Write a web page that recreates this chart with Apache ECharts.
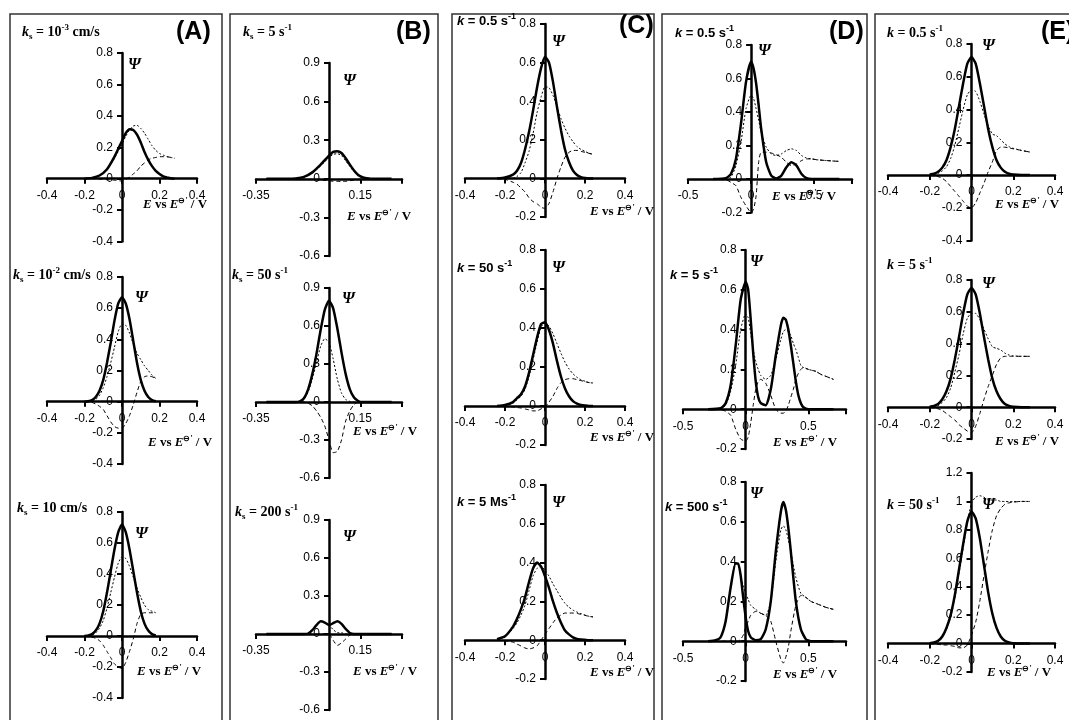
<!DOCTYPE html>
<html><head><meta charset="utf-8">
<script src="https://cdn.jsdelivr.net/npm/echarts@6/dist/echarts.min.js"></script>
<style>html,body{margin:0;padding:0;background:#fff}#c{width:1069px;height:720px}</style>
</head><body><div id="c"></div>
<script>
// ---------- tick label arrays ----------
const xTicksA = [-0.4,-0.2,0,0.2,0.4];
const xTicksB = [-0.35,0.15];
const xTicksD = [-0.5,0,0.5];
const yTicksA = [-0.4,-0.2,0,0.2,0.4,0.6,0.8];
const yTicksB = [-0.6,-0.3,0,0.3,0.6,0.9];
const yTicksC = [-0.2,0,0.2,0.4,0.6,0.8];
const yTicksE3 = [-0.2,0,0.2,0.4,0.6,0.8,1,1.2];

// ---------- column A ----------
const A1_E   = [-0.2,-0.16,-0.12,-0.08,-0.04,0,0.02,0.04,0.06,0.08,0.10,0.12,0.14,0.16,0.18,0.20,0.22,0.24,0.26,0.28];
const A1_net = [0,0.005,0.02,0.06,0.14,0.24,0.29,0.315,0.31,0.28,0.23,0.17,0.12,0.08,0.05,0.03,0.015,0.007,0.003,0];
const A1_fwd = [0,0.005,0.02,0.06,0.13,0.22,0.27,0.31,0.335,0.34,0.32,0.29,0.25,0.21,0.18,0.16,0.15,0.14,0.135,0.13];
const A1_bwd = [0,0,-0.003,-0.007,-0.01,-0.015,-0.005,0.01,0.03,0.05,0.08,0.10,0.12,0.13,0.135,0.14,0.14,0.14,0.135,0.13];

const A2_E   = [-0.2,-0.18,-0.16,-0.14,-0.12,-0.10,-0.08,-0.06,-0.04,-0.02,0,0.02,0.04,0.06,0.08,0.10,0.12,0.14,0.16,0.18];
const A2_net = [0,0.003,0.01,0.03,0.07,0.14,0.25,0.38,0.52,0.63,0.67,0.63,0.53,0.39,0.25,0.14,0.07,0.03,0.01,0.003];
const A2_fwd = [0,0.002,0.005,0.015,0.04,0.09,0.16,0.25,0.35,0.45,0.50,0.49,0.44,0.37,0.31,0.27,0.23,0.20,0.17,0.15];
const A2_bwd = [0,-0.001,-0.005,-0.015,-0.03,-0.05,-0.09,-0.13,-0.16,-0.17,-0.17,-0.14,-0.09,-0.02,0.06,0.13,0.16,0.165,0.16,0.15];

const A3_E   = [-0.2,-0.18,-0.16,-0.14,-0.12,-0.10,-0.08,-0.06,-0.04,-0.02,0,0.02,0.04,0.06,0.08,0.10,0.12,0.14,0.16,0.18];
const A3_net = [0,0.004,0.012,0.035,0.08,0.16,0.28,0.42,0.56,0.67,0.72,0.67,0.56,0.42,0.28,0.16,0.08,0.035,0.012,0.004];
const A3_fwd = [0,0.002,0.005,0.02,0.05,0.1,0.18,0.28,0.38,0.47,0.51,0.50,0.45,0.38,0.31,0.25,0.20,0.17,0.16,0.15];
const A3_bwd = [0,-0.002,-0.007,-0.015,-0.03,-0.06,-0.10,-0.14,-0.18,-0.20,-0.21,-0.17,-0.10,-0.02,0.08,0.14,0.15,0.15,0.15,0.145];

// ---------- column B ----------
const B1_E   = [-0.3,-0.2,-0.16,-0.12,-0.08,-0.04,0,0.02,0.04,0.06,0.08,0.10,0.12,0.14,0.16,0.18,0.2,0.3];
const B1_net = [0,0,0.003,0.015,0.05,0.11,0.18,0.21,0.215,0.2,0.16,0.11,0.065,0.03,0.012,0.004,0,0];
const B1_fwd = [0,0,0.002,0.012,0.045,0.10,0.165,0.19,0.195,0.18,0.14,0.095,0.055,0.025,0.01,0.003,0,0];
const B1_bwd = [0,0,-0.001,-0.003,-0.005,-0.01,-0.015,-0.02,-0.02,-0.02,-0.02,-0.015,-0.01,-0.005,-0.002,0,0,0];

const B2_E   = [-0.3,-0.16,-0.14,-0.12,-0.10,-0.08,-0.06,-0.04,-0.02,0,0.02,0.04,0.06,0.08,0.10,0.12,0.14,0.16,0.3];
const B2_net = [0,0,0.005,0.03,0.1,0.22,0.38,0.57,0.73,0.8,0.74,0.58,0.39,0.22,0.1,0.035,0.008,0,0];
const B2_fwd = [0,0,0,0.02,0.08,0.18,0.31,0.44,0.5,0.47,0.34,0.18,0.07,0.02,0.005,0,0,0,0];
const B2_bwd = [0,0,0,0,-0.01,-0.03,-0.07,-0.12,-0.19,-0.30,-0.40,-0.39,-0.30,-0.15,-0.07,-0.02,0,0,0];

const B3_E   = [-0.3,-0.12,-0.10,-0.08,-0.06,-0.04,-0.02,0,0.02,0.04,0.06,0.08,0.10,0.12,0.3];
const B3_net = [0,0,0.003,0.03,0.07,0.10,0.09,0.07,0.085,0.10,0.08,0.04,0.008,0,0];
const B3_fwd = [0,0,0.002,0.03,0.07,0.10,0.09,0.07,0.035,0.01,0.01,0,0,0,0];
const B3_bwd = [0,0,0,0,0,0,0,0,-0.05,-0.09,-0.07,-0.04,-0.008,0,0];

// ---------- column C ----------
const C_E    = [-0.24,-0.2,-0.16,-0.14,-0.12,-0.10,-0.08,-0.06,-0.04,-0.02,0,0.02,0.04,0.06,0.08,0.10,0.12,0.14,0.16,0.18,0.20,0.22,0.24];
const C1_net = [0,0.005,0.02,0.04,0.08,0.15,0.24,0.35,0.47,0.57,0.63,0.6,0.5,0.37,0.25,0.15,0.085,0.04,0.018,0.007,0.002,0,0];
const C1_fwd = [0,0,0,0.01,0.03,0.08,0.14,0.23,0.34,0.42,0.475,0.47,0.43,0.37,0.31,0.26,0.22,0.19,0.165,0.15,0.14,0.13,0.125];
const C1_bwd = [0,-0.005,-0.02,-0.03,-0.05,-0.07,-0.1,-0.12,-0.13,-0.15,-0.155,-0.13,-0.07,0.0,0.06,0.11,0.135,0.145,0.145,0.14,0.135,0.13,0.125];

const C2_net = [0,0.005,0.02,0.04,0.06,0.1,0.17,0.26,0.35,0.42,0.43,0.39,0.32,0.23,0.15,0.09,0.05,0.025,0.012,0.005,0.002,0,0];
const C2_fwd = [0,0.002,0.015,0.032,0.05,0.085,0.15,0.235,0.325,0.405,0.425,0.41,0.37,0.32,0.27,0.225,0.19,0.165,0.147,0.135,0.127,0.12,0.118];
const C2_bwd = [0,-0.003,-0.005,-0.008,-0.01,-0.015,-0.02,-0.025,-0.025,-0.015,-0.005,0.02,0.05,0.09,0.12,0.135,0.14,0.14,0.135,0.13,0.125,0.12,0.118];

const C3_net = [0.005,0.02,0.07,0.11,0.16,0.22,0.3,0.37,0.4,0.38,0.33,0.27,0.2,0.14,0.09,0.05,0.03,0.015,0.007,0.004,0.002,0,0];
const C3_fwd = [0.005,0.017,0.06,0.09,0.13,0.18,0.255,0.33,0.37,0.38,0.36,0.33,0.29,0.255,0.22,0.19,0.17,0.155,0.145,0.137,0.13,0.123,0.12];
const C3_bwd = [0,-0.003,-0.01,-0.02,-0.03,-0.04,-0.045,-0.04,-0.03,0,0.03,0.06,0.09,0.115,0.13,0.14,0.14,0.14,0.138,0.133,0.128,0.123,0.12];

// ---------- column D ----------
const D1_E   = [-0.3,-0.2,-0.16,-0.12,-0.08,-0.04,0,0.02,0.04,0.06,0.08,0.12,0.16,0.2,0.24,0.28,0.32,0.36,0.4,0.44,0.48,0.52,0.6,0.7];
const D1_net = [0,0.005,0.03,0.12,0.33,0.58,0.7,0.66,0.57,0.44,0.3,0.1,0.02,0.003,0.02,0.07,0.1,0.08,0.03,0.005,0,0,0,0];
const D1_fwd = [0,0.002,0.01,0.08,0.22,0.42,0.5,0.48,0.42,0.35,0.28,0.19,0.15,0.14,0.15,0.17,0.18,0.17,0.14,0.125,0.12,0.115,0.11,0.105];
const D1_bwd = [0,-0.003,-0.02,-0.04,-0.11,-0.16,-0.2,-0.18,-0.1,0.1,0.16,0.16,0.155,0.145,0.13,0.1,0.08,0.09,0.11,0.12,0.12,0.115,0.11,0.105];

const D2_E   = [-0.3,-0.2,-0.16,-0.12,-0.08,-0.04,0,0.02,0.04,0.06,0.08,0.10,0.12,0.16,0.2,0.24,0.28,0.3,0.32,0.34,0.36,0.38,0.4,0.42,0.44,0.46,0.5,0.56,0.6,0.64,0.7];
const D2_net = [0,0.005,0.03,0.12,0.32,0.55,0.64,0.6,0.45,0.28,0.14,0.06,0.03,0.02,0.1,0.27,0.42,0.46,0.45,0.4,0.32,0.23,0.14,0.07,0.03,0.01,0,0,0,0,0];
const D2_fwd = [0,0.003,0.02,0.09,0.22,0.4,0.48,0.46,0.38,0.3,0.24,0.2,0.17,0.15,0.17,0.25,0.35,0.39,0.4,0.39,0.37,0.33,0.3,0.26,0.22,0.21,0.2,0.19,0.175,0.165,0.15];
const D2_bwd = [0,-0.002,-0.01,-0.03,-0.1,-0.15,-0.16,-0.14,-0.07,0.02,0.1,0.14,0.15,0.13,0.07,0.0,-0.02,-0.02,-0.01,0.02,0.06,0.1,0.15,0.18,0.2,0.21,0.2,0.19,0.175,0.165,0.15];

const D3_E   = [-0.3,-0.24,-0.2,-0.16,-0.12,-0.08,-0.06,-0.04,-0.02,0,0.02,0.04,0.08,0.12,0.16,0.2,0.24,0.28,0.3,0.32,0.34,0.36,0.4,0.44,0.48,0.52,0.56,0.6,0.64,0.7];
const D3_net = [0,0.005,0.02,0.1,0.27,0.39,0.39,0.33,0.22,0.12,0.05,0.02,0.005,0.01,0.06,0.2,0.45,0.65,0.7,0.66,0.57,0.45,0.2,0.06,0.01,0,0,0,0,0];
const D3_fwd = [0,0.005,0.02,0.1,0.27,0.4,0.38,0.33,0.28,0.24,0.21,0.18,0.16,0.14,0.13,0.2,0.4,0.56,0.58,0.56,0.51,0.45,0.32,0.24,0.22,0.2,0.19,0.18,0.17,0.16];
const D3_bwd = [0,0,0,0,0,0,0,0.01,0.03,0.07,0.1,0.13,0.15,0.14,0.13,0.1,0.0,-0.09,-0.11,-0.08,-0.03,0.05,0.18,0.23,0.22,0.2,0.19,0.18,0.17,0.16];

// ---------- column E ----------
const E_E    = [-0.2,-0.18,-0.16,-0.14,-0.12,-0.10,-0.08,-0.06,-0.04,-0.02,0,0.02,0.04,0.06,0.08,0.10,0.12,0.14,0.16,0.18,0.2,0.24,0.28];
const E1_net = [0.003,0.008,0.02,0.045,0.09,0.17,0.28,0.42,0.56,0.68,0.72,0.68,0.56,0.42,0.28,0.17,0.09,0.045,0.02,0.008,0.003,0,0];
const E1_fwd = [0.003,0.003,0.01,0.025,0.05,0.1,0.18,0.29,0.40,0.49,0.52,0.51,0.45,0.37,0.30,0.25,0.24,0.215,0.19,0.173,0.163,0.15,0.14];
const E1_bwd = [0,-0.005,-0.01,-0.02,-0.04,-0.07,-0.1,-0.13,-0.16,-0.19,-0.2,-0.17,-0.11,-0.05,0.02,0.08,0.15,0.17,0.17,0.165,0.16,0.15,0.14];

const E2_net = [0.003,0.008,0.02,0.05,0.1,0.18,0.3,0.44,0.59,0.71,0.75,0.71,0.59,0.44,0.3,0.18,0.1,0.05,0.02,0.008,0.003,0,0];
const E2_fwd = [0.003,0.003,0.01,0.03,0.06,0.12,0.22,0.33,0.46,0.56,0.59,0.59,0.55,0.49,0.43,0.38,0.37,0.36,0.34,0.328,0.323,0.32,0.32];
const E2_bwd = [0,-0.005,-0.01,-0.02,-0.04,-0.06,-0.08,-0.11,-0.13,-0.15,-0.16,-0.12,-0.04,0.05,0.13,0.2,0.27,0.31,0.32,0.32,0.32,0.32,0.32];

const E3_net = [0.003,0.008,0.02,0.05,0.11,0.2,0.34,0.52,0.7,0.86,0.93,0.88,0.74,0.55,0.36,0.21,0.11,0.05,0.02,0.008,0.003,0,0];
const E3_fwd = [0.003,0.005,0.015,0.04,0.1,0.185,0.32,0.49,0.67,0.85,0.99,1.03,1.04,1.03,1.01,1.01,1.01,1.0,1.0,0.998,0.998,1.0,1.0];
const E3_bwd = [0,-0.003,-0.005,-0.01,-0.01,-0.015,-0.02,-0.03,-0.03,-0.01,0.06,0.15,0.3,0.48,0.65,0.8,0.9,0.95,0.98,0.99,0.995,1.0,1.0];

// ---------- layout (pixel boxes of each plot area) ----------
const SERIF = '"Liberation Serif","Times New Roman",serif';
const SANS = '"Liberation Sans",Arial,sans-serif';
const panels = [
 {E:A1_E,net:A1_net,fwd:A1_fwd,bwd:A1_bwd,xt:xTicksA,xmax:0.4,yt:yTicksA,box:[47,53,150,188.5]},
 {E:A2_E,net:A2_net,fwd:A2_fwd,bwd:A2_bwd,xt:xTicksA,xmax:0.4,yt:yTicksA,box:[47,277,150,187]},
 {E:A3_E,net:A3_net,fwd:A3_fwd,bwd:A3_bwd,xt:xTicksA,xmax:0.4,yt:yTicksA,box:[47,512,150,186]},
 {E:B1_E,net:B1_net,fwd:B1_fwd,bwd:B1_bwd,xt:xTicksB,xmax:0.35,yt:yTicksB,box:[256,63,146,193]},
 {E:B2_E,net:B2_net,fwd:B2_fwd,bwd:B2_bwd,xt:xTicksB,xmax:0.35,yt:yTicksB,box:[256,288,146,190]},
 {E:B3_E,net:B3_net,fwd:B3_fwd,bwd:B3_bwd,xt:xTicksB,xmax:0.35,yt:yTicksB,box:[256,520,146,190]},
 {E:C_E,net:C1_net,fwd:C1_fwd,bwd:C1_bwd,xt:xTicksA,xmax:0.4,yt:yTicksC,box:[465,24,160,193]},
 {E:C_E,net:C2_net,fwd:C2_fwd,bwd:C2_bwd,xt:xTicksA,xmax:0.4,yt:yTicksC,box:[465,250,160,195]},
 {E:C_E,net:C3_net,fwd:C3_fwd,bwd:C3_bwd,xt:xTicksA,xmax:0.4,yt:yTicksC,box:[465,485,160,194]},
 {E:D1_E,net:D1_net,fwd:D1_fwd,bwd:D1_bwd,xt:xTicksD,xmax:0.8,yt:yTicksC,box:[688,45,164,167.5]},
 {E:D2_E,net:D2_net,fwd:D2_fwd,bwd:D2_bwd,xt:xTicksD,xmax:0.8,yt:yTicksC,box:[683,250,163,199]},
 {E:D3_E,net:D3_net,fwd:D3_fwd,bwd:D3_bwd,xt:xTicksD,xmax:0.8,yt:yTicksC,box:[683,482,163,199]},
 {E:E_E,net:E1_net,fwd:E1_fwd,bwd:E1_bwd,xt:xTicksA,xmax:0.4,yt:yTicksA,box:[888,44,167,196.5]},
 {E:E_E,net:E2_net,fwd:E2_fwd,bwd:E2_bwd,xt:xTicksA,xmax:0.4,yt:yTicksC,box:[888,280,167,159]},
 {E:E_E,net:E3_net,fwd:E3_fwd,bwd:E3_bwd,xt:xTicksA,xmax:0.4,yt:yTicksE3,box:[888,473,167,199]}
];

const near = (a,b)=>Math.abs(a-b)<1e-6;
const fmt = ticks => v => { const t = ticks.find(t=>near(t,v)); return t===undefined ? '' : String(t); };

const grid=[], xAxis=[], yAxis=[], series=[];
panels.forEach((p,i)=>{
  const [L,T,W,H] = p.box;
  const xmin = p.xt[0], xmax = p.xmax, ymin = p.yt[0], ymax = p.yt[p.yt.length-1];
  grid.push({left:L, top:T, width:W, height:H});
  // shift the axes so they cross at the origin (value 0 of the other axis)
  const yOff = -(0 - xmin)/(xmax - xmin)*W;
  const xOff = -(0 - ymin)/(ymax - ymin)*H;
  const common = {
    axisLine:{onZero:false, lineStyle:{color:'#000', width:2.5}},
    axisTick:{length:5, lineStyle:{color:'#000', width:2}},
    splitLine:{show:false}
  };
  xAxis.push(Object.assign({type:'value', gridIndex:i, position:'bottom', offset:xOff, min:xmin, max:xmax,
    interval:p.xt[1]-p.xt[0],
    axisLabel:{fontFamily:SANS, fontSize:12, color:'#000', margin:11, formatter:fmt(p.xt)}}, common));
  yAxis.push(Object.assign({type:'value', gridIndex:i, position:'left', offset:yOff, min:ymin, max:ymax,
    interval:p.yt[1]-p.yt[0],
    axisLabel:{fontFamily:SANS, fontSize:12, color:'#000', margin:9, formatter:fmt(p.yt)}}, common));
  const mk = arr => p.E.map((e,j)=>[e, arr[j]]);
  series.push({type:'line', xAxisIndex:i, yAxisIndex:i, data:mk(p.bwd), showSymbol:false, smooth:0.2, z:2,
    lineStyle:{color:'#000', width:1, type:[4,3]}, animation:false});
  series.push({type:'line', xAxisIndex:i, yAxisIndex:i, data:mk(p.fwd), showSymbol:false, smooth:0.2, z:2,
    lineStyle:{color:'#000', width:1, type:[2,2]}, animation:false});
  series.push({type:'line', xAxisIndex:i, yAxisIndex:i, data:mk(p.net), showSymbol:false, smooth:0.2, z:3,
    lineStyle:{color:'#000', width:2.5}, animation:false});
});

// ---------- texts ----------
const richSerif = {
  i:{fontFamily:SERIF, fontWeight:'bold', fontStyle:'italic', fontSize:14, lineHeight:18},
  b:{fontFamily:SERIF, fontWeight:'bold', fontSize:14, lineHeight:18},
  sub:{fontFamily:SERIF, fontWeight:'bold', fontSize:9, lineHeight:18, verticalAlign:'bottom'},
  sup:{fontFamily:SERIF, fontWeight:'bold', fontSize:9, lineHeight:18, verticalAlign:'top'}
};
const richSans = {
  i:{fontFamily:SANS, fontWeight:'bold', fontStyle:'italic', fontSize:13, lineHeight:18},
  b:{fontFamily:SANS, fontWeight:'bold', fontSize:13, lineHeight:18},
  sup:{fontFamily:SANS, fontWeight:'bold', fontSize:9, lineHeight:18, verticalAlign:'top'}
};
const richAxis = {
  i:{fontFamily:SERIF, fontWeight:'bold', fontStyle:'italic', fontSize:13, lineHeight:16},
  b:{fontFamily:SERIF, fontWeight:'bold', fontSize:13, lineHeight:16},
  sup:{fontFamily:SERIF, fontWeight:'bold', fontSize:8, lineHeight:16, verticalAlign:'top'}
};
const labels = [
  ['{i|k}{sub|s}{b| = 10}{sup|-3}{b| cm/s}', 22, 32, 'serif'],
  ['{i|k}{sub|s}{b| = 10}{sup|-2}{b| cm/s}', 13, 275, 'serif'],
  ['{i|k}{sub|s}{b| = 10 cm/s}', 17, 508, 'serif'],
  ['{i|k}{sub|s}{b| = 5 s}{sup|-1}', 243, 32, 'serif'],
  ['{i|k}{sub|s}{b| = 50 s}{sup|-1}', 232, 275, 'serif'],
  ['{i|k}{sub|s}{b| = 200 s}{sup|-1}', 235, 512, 'serif'],
  ['{i|k}{b| = 0.5 s}{sup|-1}', 457, 21, 'sans'],
  ['{i|k}{b| = 50 s}{sup|-1}', 457, 268, 'sans'],
  ['{i|k}{b| = 5 Ms}{sup|-1}', 457, 502, 'sans'],
  ['{i|k}{b| = 0.5 s}{sup|-1}', 675, 33, 'sans'],
  ['{i|k}{b| = 5 s}{sup|-1}', 670, 275, 'sans'],
  ['{i|k}{b| = 500 s}{sup|-1}', 665, 507, 'sans'],
  ['{i|k}{b| = 0.5 s}{sup|-1}', 887, 33, 'serif'],
  ['{i|k}{b| = 5 s}{sup|-1}', 887, 265, 'serif'],
  ['{i|k}{b| = 50 s}{sup|-1}', 887, 505, 'serif']
];
const psiPos = [[128,65],[135,298],[135,534],[343,81],[342,299],[343,537],[552,42],[552,268],[552,503],[758,51],[750,262],[750,494],[982,46],[982,284],[982,505]];
const axTitlePos = [[143,205],[148,443],[137,672],[347,217],[353,432],[353,672],[590,212],[590,438],[590,673],[772,197],[773,443],[773,675],[995,205],[995,442],[987,673]];
const letters = [['(A)',176,32],['(B)',396,32],['(C)',619,26],['(D)',829,32],['(E)',1041,32]];
const boxes = [[10,222],[230,438],[452,654],[662,867],[875,1080]];

const graphic = [];
boxes.forEach(b=>graphic.push({type:'rect', shape:{x:b[0], y:14, width:b[1]-b[0], height:720}, style:{fill:'none', stroke:'#333', lineWidth:1.5}, silent:true}));
letters.forEach(l=>graphic.push({type:'text', x:l[1], y:l[2], style:{text:l[0], font:'bold 25px '+SANS, fill:'#000', verticalAlign:'middle'}}));
labels.forEach(l=>graphic.push({type:'text', x:l[1], y:l[2], style:{text:l[0], rich:l[3]==='serif'?richSerif:richSans, fill:'#000', verticalAlign:'middle'}}));
psiPos.forEach(p=>graphic.push({type:'text', x:p[0], y:p[1], style:{text:'Ψ', font:'italic bold 16px '+SERIF, fill:'#000', verticalAlign:'middle'}}));
axTitlePos.forEach(p=>graphic.push({type:'text', x:p[0], y:p[1], style:{text:"{i|E}{b| vs }{i|E}{sup|⊖'}{b| / V}", rich:richAxis, fill:'#000', verticalAlign:'middle'}}));

const chart = echarts.init(document.getElementById('c'), null, {renderer:'canvas'});
chart.setOption({animation:false, backgroundColor:'#fff', grid, xAxis, yAxis, series, graphic});
</script></body></html>
